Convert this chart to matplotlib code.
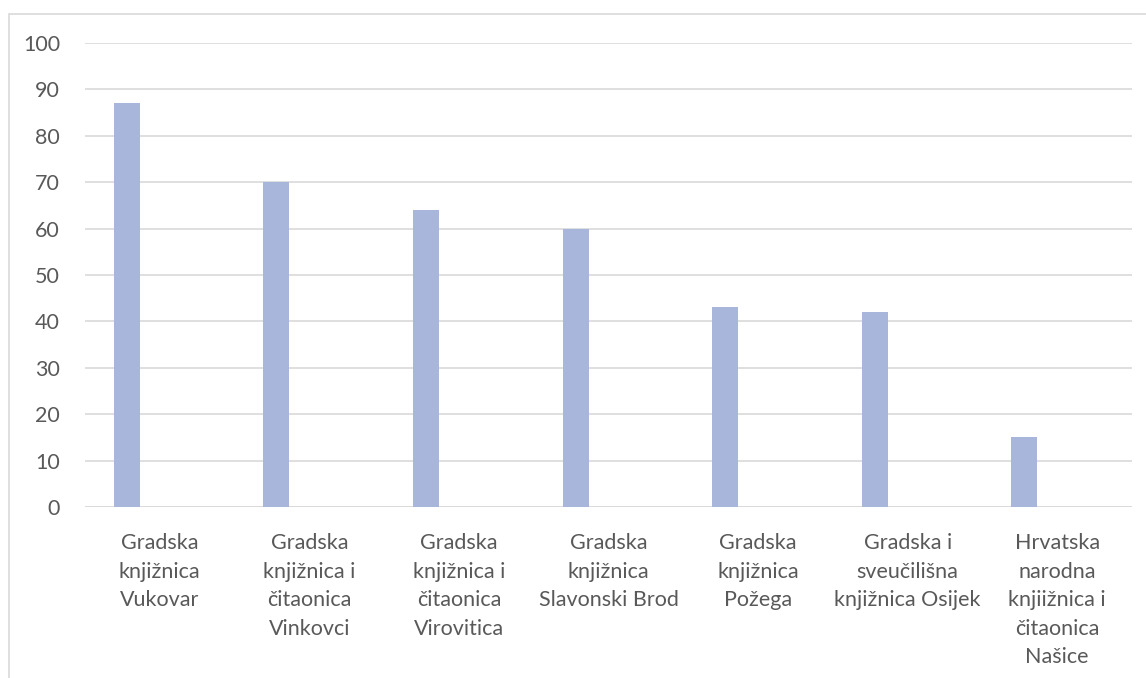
import matplotlib
matplotlib.use("Agg")
import matplotlib.pyplot as plt
from matplotlib.patches import Rectangle

categories = [
    "Gradska\nknjižnica\nVukovar",
    "Gradska\nknjižnica i\nčitaonica\nVinkovci",
    "Gradska\nknjižnica i\nčitaonica\nVirovitica",
    "Gradska\nknjižnica\nSlavonski Brod",
    "Gradska\nknjižnica\nPožega",
    "Gradska i\nsveučilišna\nknjižnica Osijek",
    "Hrvatska\nnarodna\nknjiižnica i\nčitaonica\nNašice",
]
values = [87, 70, 64, 60, 43, 42, 15]
yticks = [0, 10, 20, 30, 40, 50, 60, 70, 80, 90, 100]

plt.rcParams['font.family'] = ['Lato', 'DejaVu Sans']
W, H = 1146, 678
fig = plt.figure(figsize=(W / 100, H / 100), dpi=100)
fig.patches.append(Rectangle((9 / W, -0.1), 1.2, 1 - 14 / H + 0.1, transform=fig.transFigure,
                             fill=False, edgecolor='#D9D9D9', linewidth=1.2))
ax = fig.add_axes([85 / W, (H - 507) / H, (1132 - 85) / W, (507 - 43) / H])

x = list(range(len(categories)))
ax.bar([i - 0.22 for i in x], values, width=0.174, color='#A9B6DB', zorder=3)
ax.set_xlim(-0.5, len(categories) - 0.5)
ax.set_ylim(0, 100)
ax.set_yticks(yticks)
ax.set_yticklabels([str(t) for t in yticks])
ax.set_xticks(x)
ax.set_xticklabels(categories, linespacing=1.53)
ax.tick_params(axis='both', length=0, labelsize=15.5, labelcolor='#595959')
ax.tick_params(axis='y', pad=18)
ax.tick_params(axis='x', pad=19)
ax.grid(axis='y', color='#D9D9D9', linewidth=1.2, zorder=0)
for s in ax.spines.values():
    s.set_visible(False)
ax.axhline(0, color='#D9D9D9', linewidth=1.2, zorder=2)

fig.savefig("out.png", dpi=100)
